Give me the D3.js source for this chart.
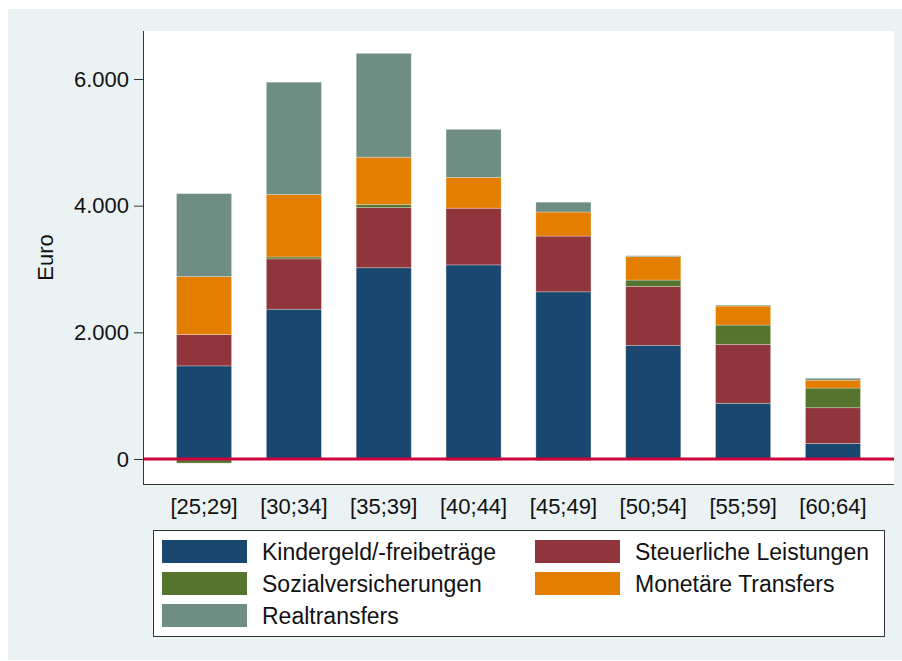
<!DOCTYPE html>
<html>
<head>
<meta charset="utf-8">
<script src="https://cdn.jsdelivr.net/npm/d3@7"></script>
<style>
  body { margin: 0; background: #ffffff; }
  svg { display: block; font-family: Arial, "Liberation Sans", sans-serif; }
</style>
</head>
<body>
<div id="chart"></div>
<script>
(function() {
  'use strict';

  var width = 902, height = 661;

  // data (Euro)
  var categories = ['[25;29]', '[30;34]', '[35;39]', '[40;44]', '[45;49]', '[50;54]', '[55;59]', '[60;64]'];
  var kindergeld = [1470, 2365, 3020, 3065, 2640, 1795, 880, 245];
  var steuerlich = [495, 795, 950, 895, 880, 930, 930, 565];
  var sozial = [-65, 30, 50, -25, -25, 100, 305, 310];
  var monetaer = [915, 985, 745, 485, 380, 370, 300, 125];
  var real = [1310, 1775, 1640, 760, 155, 15, 15, 30];
  var yTicks = [0, 2000, 4000, 6000];

  var seriesNames = ['Kindergeld/-freibeträge', 'Steuerliche Leistungen', 'Sozialversicherungen', 'Monetäre Transfers', 'Realtransfers'];
  var seriesKeys = ['kindergeld', 'steuerlich', 'sozial', 'monetaer', 'real'];
  var colors = ['#1a476f', '#90353b', '#55752f', '#e37e00', '#6e8e84'];

  var rows = categories.map(function(c, i) {
    return {
      cat: c,
      kindergeld: kindergeld[i],
      steuerlich: steuerlich[i],
      sozial: sozial[i],
      monetaer: monetaer[i],
      real: real[i]
    };
  });

  var plot = { left: 143, right: 894, top: 31, bottom: 484 };

  var svg = d3.select('#chart').append('svg')
    .attr('width', width)
    .attr('height', height);

  // graph region
  svg.append('rect')
    .attr('x', 8).attr('y', 9)
    .attr('width', width - 8).attr('height', height - 10)
    .attr('fill', '#eaf2f3');

  svg.append('rect')
    .attr('x', plot.left).attr('y', plot.top)
    .attr('width', plot.right - plot.left).attr('height', plot.bottom - plot.top)
    .attr('fill', '#ffffff');

  var x = d3.scaleBand()
    .domain(categories)
    .range([plot.left, plot.right])
    .paddingInner(0.387)
    .paddingOuter(0.373);

  var y = d3.scaleLinear()
    .domain([0, 6000])
    .range([459, 79]);

  var stack = d3.stack()
    .keys(seriesKeys)
    .offset(d3.stackOffsetDiverging);

  var layers = stack(rows);

  svg.append('g').selectAll('g')
    .data(layers)
    .enter().append('g')
    .attr('fill', function(d, i) { return colors[i]; })
    .selectAll('rect')
    .data(function(d) { return d; })
    .enter().append('rect')
    .attr('x', function(d) { return x(d.data.cat); })
    .attr('width', x.bandwidth())
    .attr('y', function(d) { return y(Math.max(d[0], d[1])); })
    .attr('height', function(d) { return Math.abs(y(d[0]) - y(d[1])); })
    .attr('stroke', 'rgba(255,255,255,0.35)')
    .attr('stroke-width', 0.8);

  // zero line
  svg.append('line')
    .attr('x1', plot.left).attr('x2', plot.right)
    .attr('y1', y(0)).attr('y2', y(0))
    .attr('stroke', '#d0043c')
    .attr('stroke-width', 2.8);

  // y axis
  var yAxis = d3.axisLeft(y)
    .tickValues(yTicks)
    .tickSize(9)
    .tickPadding(5)
    .tickFormat(function(d) { return d3.format(',')(d).replace(/,/g, '.'); });

  var gy = svg.append('g')
    .attr('transform', 'translate(' + plot.left + ',0)')
    .call(yAxis);
  gy.select('.domain').remove();
  gy.selectAll('.tick line').attr('stroke', '#333').attr('stroke-width', 1);
  gy.selectAll('.tick text')
    .attr('font-size', 22)
    .attr('font-family', 'Arial, "Liberation Sans", sans-serif')
    .attr('fill', '#111');

  svg.append('line')
    .attr('x1', plot.left + 0.5).attr('x2', plot.left + 0.5)
    .attr('y1', plot.top).attr('y2', plot.bottom)
    .attr('stroke', '#333').attr('stroke-width', 1);

  // x axis
  var xAxis = d3.axisBottom(x)
    .tickSize(0)
    .tickPadding(14);

  var gx = svg.append('g')
    .attr('transform', 'translate(0,' + plot.bottom + ')')
    .call(xAxis);
  gx.select('.domain').remove();
  gx.selectAll('.tick text')
    .attr('font-size', 22)
    .attr('font-family', 'Arial, "Liberation Sans", sans-serif')
    .attr('fill', '#111');

  svg.append('line')
    .attr('x1', plot.left).attr('x2', plot.right)
    .attr('y1', plot.bottom + 0.5).attr('y2', plot.bottom + 0.5)
    .attr('stroke', '#333').attr('stroke-width', 1);

  svg.append('text')
    .attr('transform', 'translate(53,' + ((plot.top + plot.bottom) / 2) + ') rotate(-90)')
    .attr('text-anchor', 'middle')
    .attr('font-size', 22)
    .attr('fill', '#111')
    .text('Euro');

  // legend
  var legend = svg.append('g');
  legend.append('rect')
    .attr('x', 153.5).attr('y', 530.5)
    .attr('width', 731).attr('height', 106)
    .attr('fill', '#ffffff')
    .attr('stroke', '#333')
    .attr('stroke-width', 1);

  var colX = [162, 535];
  var items = legend.selectAll('g.item')
    .data(seriesNames)
    .enter().append('g')
    .attr('class', 'item')
    .attr('transform', function(d, i) {
      return 'translate(' + colX[i % 2] + ',' + (540 + Math.floor(i / 2) * 32) + ')';
    });

  items.append('rect')
    .attr('width', 85).attr('height', 23)
    .attr('fill', function(d, i) { return colors[i]; });

  items.append('text')
    .attr('x', 100)
    .attr('y', 12)
    .attr('dy', '0.35em')
    .attr('font-size', 23)
    .attr('fill', '#111')
    .text(function(d) { return d; });
})();
</script>
</body>
</html>
